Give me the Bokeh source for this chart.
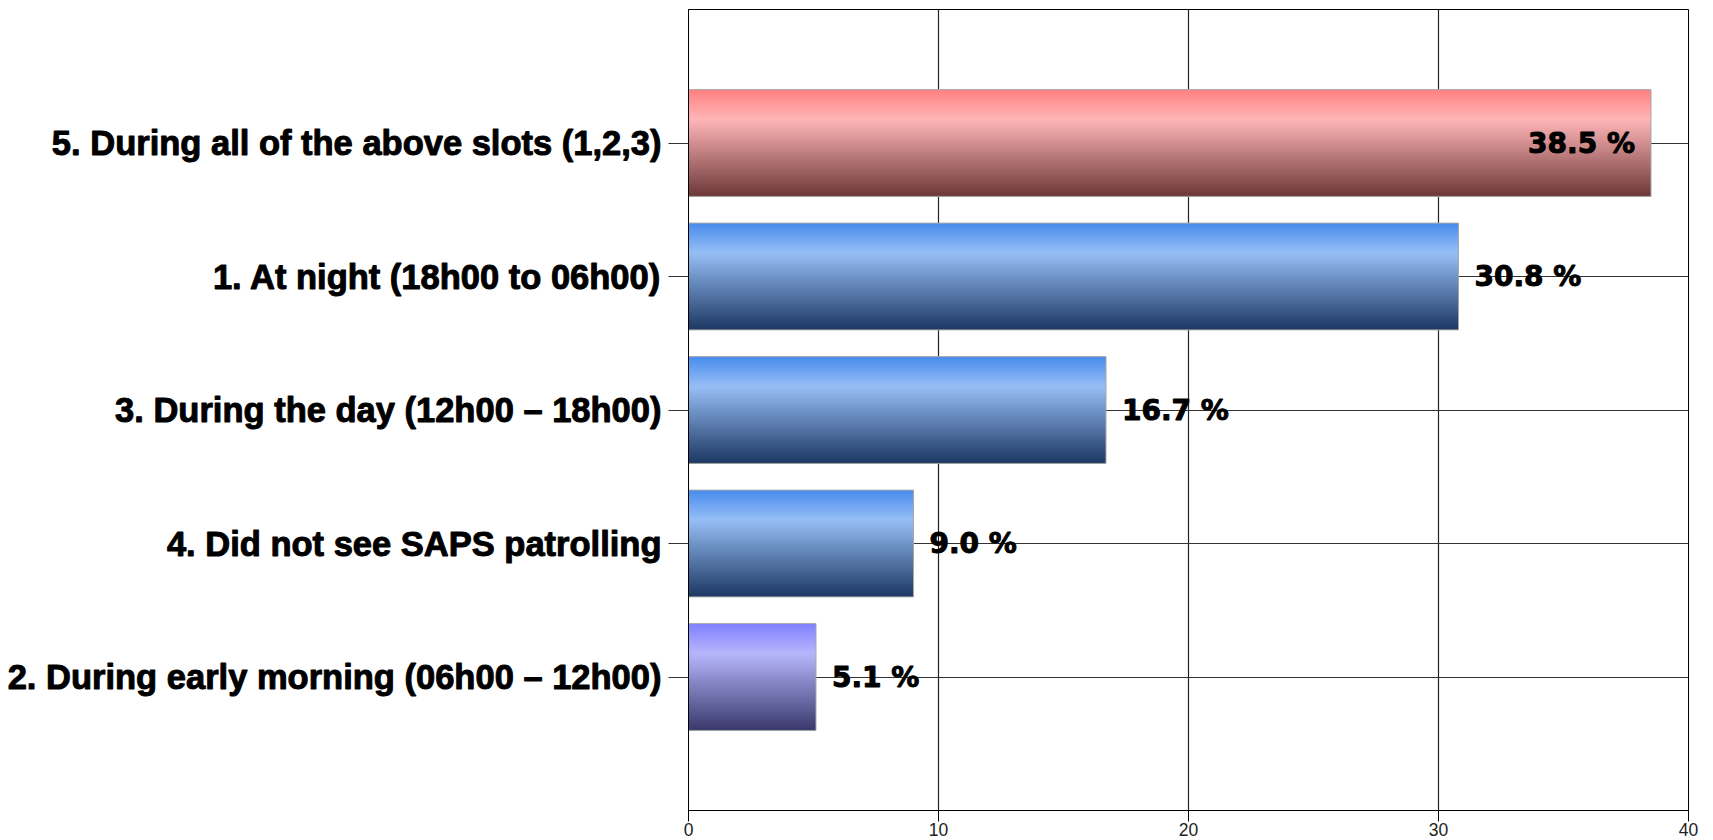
from bokeh.plotting import figure
from bokeh.models import Range1d, FixedTicker
from bokeh.core.properties import value
from bokeh.embed import file_html
from bokeh.resources import INLINE

# ---- data (top to bottom) ----
categories = [
    "5. During all of the above slots (1,2,3)",
    "1. At night (18h00 to 06h00)",
    "3. During the day (12h00 \u2013 18h00)",
    "4. Did not see SAPS patrolling",
    "2. During early morning (06h00 \u2013 12h00)",
]
percentages = [38.5, 30.8, 16.7, 9.0, 5.1]
x_ticks = [0, 10, 20, 30, 40]
bar_kind = ["red", "blue", "blue", "blue", "purple"]

# ---- styles ----
gradients = {  # top, highlight, bottom
    "red": [(255, 128, 128), (255, 181, 183), (108, 56, 56)],
    "blue": [(72, 140, 237), (150, 190, 245), (28, 55, 98)],
    "purple": [(128, 128, 255), (182, 182, 252), (56, 56, 108)],
}
HL_POS = 0.28
N_SLICES = 60
BAR_H = 0.8
X_MAX = 40

n = len(categories)
ypos = [n - i for i in range(n)]

p = figure(width=1705, height=840, x_range=Range1d(0, X_MAX), y_range=Range1d(0, n + 1),
           output_backend="svg", toolbar_location=None,
           min_border_left=688, min_border_right=17, min_border_top=9, min_border_bottom=30)
p.background_fill_color = "white"
p.border_fill_color = "white"
p.outline_line_color = "black"
p.outline_line_width = 1


def lerp(a, b, t):
    return tuple(int(round(a[k] + (b[k] - a[k]) * t)) for k in range(3))


def grad_color(stops, f):
    if f <= HL_POS:
        c = lerp(stops[0], stops[1], f / HL_POS)
    else:
        c = lerp(stops[1], stops[2], (f - HL_POS) / (1 - HL_POS))
    return "#%02x%02x%02x" % c


# gradient: nested rectangles, each from its slice top down to the bar bottom
ql, qr, qt, qb, qc = [], [], [], [], []
dh = BAR_H / N_SLICES
for v, y, kind in zip(percentages, ypos, bar_kind):
    top = y + BAR_H / 2
    bottom = y - BAR_H / 2
    for k in range(N_SLICES):
        f = (k + 0.5) / N_SLICES
        ql.append(0)
        qr.append(v)
        qt.append(top - k * dh)
        qb.append(bottom)
        qc.append(grad_color(gradients[kind], f))

p.quad(left=ql, right=qr, top=qt, bottom=qb, fill_color=qc, line_color=None)
p.hbar(y=ypos, right=percentages, left=0, height=BAR_H, fill_color=None,
       line_color="#a8a8a8", line_width=1)

# value labels
inside = [v > X_MAX - 6 for v in percentages]
lab = [f"{v:.1f} %" for v in percentages]
in_x = [v for v, f in zip(percentages, inside) if f]
in_y = [y for y, f in zip(ypos, inside) if f]
in_t = [t for t, f in zip(lab, inside) if f]
out_x = [v for v, f in zip(percentages, inside) if not f]
out_y = [y for y, f in zip(ypos, inside) if not f]
out_t = [t for t, f in zip(lab, inside) if not f]

common = dict(text_font=value("DejaVu Sans"), text_font_style="bold", text_font_size="28px",
              text_color="black", text_baseline="middle", text_outline_color="black")
p.text(x=in_x, y=in_y, text=in_t, text_align="right", x_offset=-16, **common)
p.text(x=out_x, y=out_y, text=out_t, text_align="left", x_offset=16, **common)

# axes
p.xaxis.ticker = FixedTicker(ticks=x_ticks)
p.xaxis.minor_tick_line_color = None
p.xaxis.major_tick_in = 0
p.xaxis.major_tick_out = 11
p.xaxis.major_tick_line_color = "black"
p.xaxis.axis_line_color = "black"
p.xaxis.major_label_text_font = "Liberation Sans"
p.xaxis.major_label_text_font_size = "17.5px"
p.xaxis.major_label_text_color = "#222222"
p.xaxis.major_label_standoff = 1

p.yaxis.ticker = FixedTicker(ticks=ypos)
p.yaxis.major_label_overrides = {y: c for y, c in zip(ypos, categories)}
p.yaxis.minor_tick_line_color = None
p.yaxis.major_tick_in = 0
p.yaxis.major_tick_out = 20
p.yaxis.major_tick_line_color = "#333333"
p.yaxis.axis_line_color = "black"
p.yaxis.major_label_text_font = "Liberation Sans"
p.yaxis.major_label_text_font_style = "bold"
p.yaxis.major_label_text_font_size = "34.5px"
p.yaxis.major_label_text_color = "black"
p.yaxis.major_label_text_outline_color = "black"
p.yaxis.major_label_standoff = 7

p.xgrid.ticker = FixedTicker(ticks=x_ticks)
p.xgrid.grid_line_color = "#222222"
p.xgrid.grid_line_width = 1.2
p.ygrid.ticker = FixedTicker(ticks=ypos)
p.ygrid.grid_line_color = "#333333"
p.ygrid.grid_line_width = 1.2

open("out.html", "w").write(file_html(p, INLINE))
